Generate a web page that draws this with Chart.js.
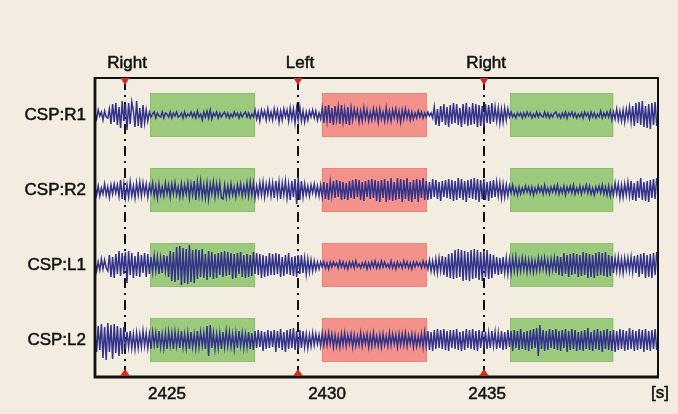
<!DOCTYPE html>
<html>
<head>
<meta charset="utf-8">
<script src="https://cdn.jsdelivr.net/npm/chart.js@4/dist/chart.umd.min.js"></script>
<style>
  html, body { margin: 0; padding: 0; background: #f3ece1; }
  canvas { display: block; }
</style>
</head>
<body>
<canvas id="eeg" width="678" height="414"></canvas>
<script>
// Recording window and sample grid (20 samples per second)
const T0 = 2422.75;
const DT = 0.05;
const X_MIN = 2422.75;
const X_MAX = 2440.34;

// Channel names and tick positions on the time axis
const channelNames = ['CSP:R1', 'CSP:R2', 'CSP:L1', 'CSP:L2'];
const timeTicks = [2425, 2430, 2435];

// Cue onsets and their labels
const cueTimes = [2423.69, 2429.09, 2434.91];
const cueLabels = ['Right', 'Left', 'Right'];

// Imagery windows: start, end and class of each one
const windowStarts = [2424.47, 2429.84, 2435.72];
const windowEnds = [2427.75, 2433.12, 2438.94];
const windowClasses = ['right', 'left', 'right'];

// CSP-filtered signal amplitudes per channel, 16 samples per line
const cspR1 = [
  2,-4,5,-1,3,-5,4,-2,-3,6,-9,11,-7,12,-10,8,
  -13,14,-6,11,-15,12,-9,13,4,-12,14,-11,7,-13,10,-8,
  5,-6,3,-2,1,3,-3,2,-1,-2,3,-3,2,1,-2,3,
  -3,2,-1,3,-2,-1,2,-3,3,-2,1,-1,3,-2,2,-3,
  4,-2,1,-5,3,-2,4,-3,5,-4,2,-1,3,-3,2,-2,
  1,3,-2,2,-3,1,-2,3,-1,2,-3,2,-2,1,3,-2,
  2,-3,1,-2,5,-4,3,-6,5,-2,4,-5,6,-4,3,-5,
  6,-3,5,-7,4,-5,6,-2,5,-6,7,-4,6,-8,7,-5,
  8,-6,4,-7,3,-5,4,-2,5,-3,4,-5,2,-4,7,-8,
  9,-6,10,-8,7,-10,9,-5,8,-9,10,-7,6,-9,8,-10,
  7,-5,6,-3,5,-7,4,-6,7,-4,5,-6,3,-5,6,-4,
  5,-7,6,-4,3,-6,7,-5,4,-6,5,-3,6,-5,4,-7,
  5,-4,6,-3,4,-5,3,-4,2,-3,4,-2,3,-3,2,-2,
  3,-1,2,-3,8,-10,6,-11,9,-7,11,-10,8,-12,10,-9,
  12,-8,11,-10,7,-12,11,-9,12,-11,8,-10,12,-9,11,-12,
  10,-11,9,-12,11,-8,10,-9,12,-7,8,-6,7,-8,6,-7,
  7,-5,6,-2,3,-2,1,-3,2,-1,2,-3,2,-2,3,-1,
  2,-3,1,-2,3,-2,2,-1,-2,3,-2,2,-3,1,-2,2,
  3,-2,1,-3,2,-2,3,-3,2,-1,3,-2,2,-3,1,-2,
  2,-3,3,-1,2,-4,3,-2,2,-3,1,-2,4,-3,2,-2,
  3,-2,4,-5,3,-4,6,-5,4,-6,5,-7,6,-4,8,-7,
  9,-11,12,-8,13,-10,14,-12,9,-13,11,-14,12,-10,13,-11
];
const cspR2 = [
  3,-5,4,-6,2,-4,6,-5,3,-7,5,-4,6,-3,5,-6,
  10,-9,6,-8,5,-7,8,-6,4,-8,7,-5,8,-6,7,-4,
  6,-7,5,-3,7,-6,4,-8,6,-5,3,-6,7,-4,5,-7,
  6,-4,7,-5,3,-7,6,-6,5,-4,7,-8,6,-5,9,-10,
  8,-6,9,-7,5,-8,7,-9,6,-4,8,-7,6,-5,7,-8,
  -9,5,-7,4,-6,6,-5,3,-7,5,-4,6,-6,4,-5,7,
  -6,8,-5,7,-8,4,-6,7,-5,8,-7,6,-4,8,-6,7,
  -8,9,-6,8,-9,7,-5,9,-8,6,-10,9,-7,11,-14,12,
  -10,9,-7,6,-5,4,-6,5,-3,6,-5,4,-6,5,-7,8,
  -9,7,-10,8,-6,9,-8,10,-7,9,-10,8,-9,7,-10,9,
  -8,10,-9,11,-7,10,-10,8,-11,9,-7,10,-9,11,-8,10,
  -11,9,-12,10,-8,11,-12,9,-10,12,-11,8,-10,12,-9,11,
  -12,10,-9,12,-11,8,-12,10,-9,11,-12,10,-8,12,-10,9,
  -10,8,-9,11,-7,10,-9,8,-11,9,-7,10,-8,11,-9,10,
  -11,9,-10,12,-8,11,-10,9,-12,10,-8,11,-9,12,-10,11,
  -12,10,-9,11,-10,8,-11,9,-8,10,-7,8,-6,7,-8,6,
  -7,5,-6,4,-3,5,-4,2,-5,3,-4,2,-3,4,-2,3,
  -4,3,-5,2,-3,4,-2,3,-4,5,-3,2,-4,3,-2,4,
  -3,5,-4,2,-3,4,-5,3,-2,4,-3,5,-4,2,-3,4,
  -4,3,-2,5,-3,4,-4,2,-5,3,-2,4,-3,5,-4,3,
  -5,4,-6,3,-5,7,-4,6,-8,5,-7,6,-5,8,-6,9,
  -10,7,-11,9,-8,12,-10,8,-11,9,-12,10,-8,11,-9,12
];
const cspL1 = [
  4,-6,3,-5,6,-4,5,-3,-6,10,-12,8,-13,11,-9,14,
  -11,12,-9,13,-18,14,-10,12,-13,9,-11,13,-12,10,-8,12,
  -12,11,-9,8,-7,9,-6,8,-9,7,-8,10,-6,9,-12,14,
  -16,13,-17,18,-15,19,-20,17,-18,16,-19,20,-17,15,-18,16,
  -14,15,-12,16,-13,11,-15,14,-12,13,-14,11,-13,12,-10,13,
  -12,14,-11,13,-10,12,-14,11,-13,12,-9,13,-12,10,-13,11,
  -12,10,-11,13,-9,12,-10,11,-13,10,-12,9,-11,12,-10,11,
  -10,12,-9,11,-12,8,-11,10,-9,12,-10,8,-11,9,-12,10,
  -9,10,-8,7,-9,6,-7,5,-6,4,-5,3,-4,3,-2,3,
  -3,2,-4,3,-2,3,-1,2,-3,4,-2,3,-3,2,-4,3,
  -2,3,-3,4,-2,1,-3,2,-2,3,-4,2,-3,3,-2,4,
  -3,2,-3,4,-2,3,-2,1,-3,4,-3,2,-4,3,-2,2,
  -3,4,-2,3,-3,2,-4,3,-2,3,-1,2,-3,4,-2,3,
  -4,5,-6,4,-7,6,-8,7,-6,9,-10,8,-12,11,-13,12,
  -14,15,-13,16,-12,15,-16,14,-15,13,-16,15,-14,16,-13,15,
  -15,13,-16,14,-12,15,-14,11,-13,10,-9,8,-10,7,-9,8,
  -8,7,-9,6,-8,7,-6,8,-7,5,-6,7,-5,6,-7,5,
  -6,5,-7,4,-6,7,-5,6,-4,7,-6,5,-7,6,-5,7,
  -8,9,-10,8,-11,12,-9,10,-12,11,-10,12,-9,11,-12,10,
  -11,13,-10,12,-13,11,-12,10,-13,12,-11,13,-10,12,-11,13,
  -12,10,-11,9,-8,7,-6,8,-7,6,-8,7,-5,7,-6,8,
  -7,9,-8,10,-12,11,-9,12,-13,10,-12,11,-13,12,-10,13
];
const cspL2 = [
  8,-12,14,-10,16,-18,13,-20,17,-12,15,-19,16,-13,14,-16,
  12,-14,13,-9,8,-7,9,-8,6,-9,7,-8,6,-7,9,-6,
  7,-8,6,-9,8,-5,7,-8,9,-7,6,-8,7,-9,8,-6,
  7,-9,8,-6,7,-8,9,-7,6,-8,7,-9,8,-7,6,-8,
  9,-7,8,-6,7,-9,14,-16,15,-8,7,-9,6,-8,7,-9,
  8,-7,9,-6,8,-7,6,-9,7,-8,9,-6,7,-8,6,-7,
  8,-9,7,-10,9,-8,10,-7,9,-11,8,-9,10,-8,9,-7,
  10,-12,9,-8,11,-10,8,-12,10,-9,11,-8,12,-10,9,-11,
  10,-8,9,-7,6,-8,5,-6,7,-5,6,-4,5,-6,7,-5,
  6,-5,7,-4,6,-7,5,-6,4,-7,6,-5,7,-6,5,-4,
  6,-7,5,-6,4,-5,7,-6,5,-4,6,-7,5,-6,7,-5,
  4,-6,5,-7,6,-5,4,-6,7,-5,6,-4,5,-7,6,-5,
  6,-5,7,-6,5,-4,6,-7,5,-6,4,-5,6,-7,8,-6,
  9,-10,8,-11,10,-9,11,-8,10,-9,11,-10,9,-11,10,-8,
  10,-9,11,-10,8,-11,9,-10,11,-8,10,-9,11,-10,9,-11,
  10,-8,9,-7,8,-9,7,-8,9,-6,8,-9,7,-8,9,-10,
  8,-9,10,-7,9,-11,10,-8,9,-10,11,-9,8,-10,9,-11,
  10,-9,11,-8,12,-16,15,-9,10,-11,9,-10,11,-8,10,-9,
  11,-10,9,-11,10,-8,11,-12,9,-10,11,-9,10,-11,8,-10,
  9,-11,10,-9,12,-10,8,-11,10,-9,11,-10,9,-12,10,-9,
  11,-10,9,-11,10,-12,9,-10,11,-9,10,-11,9,-10,12,-9,
  10,-11,9,-10,11,-9,10,-12,11,-10,9,-11,10,-9,11,-10
];
const channelSignals = [cspR1, cspR2, cspL1, cspL2];

// Stacked layout: baseline of the top trace and the spacing between traces
const TOP_BASELINE = 262;
const ROW_GAP = 75;
const BOX_HALF = 22;
const baselineOf = k => TOP_BASELINE - k * ROW_GAP;

const FONT_FAMILY = '"Liberation Sans", Arial, sans-serif';
const TEXT_FONT = '17px ' + FONT_FAMILY;
const INK = '#111111';
const TRACE = '#33338a';

const datasets = channelSignals.map((sig, k) => ({
  label: channelNames[k],
  data: sig.map((v, i) => ({ x: T0 + i * DT, y: baselineOf(k) + v })),
  borderColor: TRACE,
  borderWidth: 1.5,
  pointRadius: 0,
  tension: 0,
  fill: false
}));

function inkText(c, text, x, y) {
  c.fillText(text, x, y);
  c.strokeText(text, x, y);
}

// Background, imagery windows, cue lines, frame, cue markers and labels
const decorations = {
  id: 'decorations',
  beforeDraw(chart) {
    const c = chart.ctx;
    c.save();
    c.fillStyle = '#f3ece1';
    c.fillRect(0, 0, chart.width, chart.height);
    c.restore();
  },
  beforeDatasetsDraw(chart) {
    const c = chart.ctx, xs = chart.scales.x, ys = chart.scales.y, a = chart.chartArea;
    c.save();
    for (let w = 0; w < windowStarts.length; w++) {
      const x0 = xs.getPixelForValue(windowStarts[w]);
      const x1 = xs.getPixelForValue(windowEnds[w]);
      const isRight = windowClasses[w] === 'right';
      for (let k = 0; k < channelNames.length; k++) {
        const yt = ys.getPixelForValue(baselineOf(k) + BOX_HALF);
        const yb = ys.getPixelForValue(baselineOf(k) - BOX_HALF);
        c.fillStyle = isRight ? '#9cca7c' : '#f2928b';
        c.fillRect(x0, yt, x1 - x0, yb - yt);
        c.strokeStyle = isRight ? '#8dbd6d' : '#e8857f';
        c.lineWidth = 1;
        c.strokeRect(x0 + 0.5, yt + 0.5, x1 - x0 - 1, yb - yt - 1);
      }
    }
    // dash-dot cue lines
    c.strokeStyle = '#111';
    c.lineWidth = 2;
    c.setLineDash([10, 5, 2, 5]);
    cueTimes.forEach(t => {
      const x = Math.round(xs.getPixelForValue(t));
      c.beginPath();
      c.moveTo(x, a.top + 2);
      c.lineTo(x, a.bottom - 2);
      c.stroke();
    });
    c.restore();
  },
  afterDraw(chart) {
    const c = chart.ctx, xs = chart.scales.x, a = chart.chartArea;
    c.save();
    // frame
    c.strokeStyle = '#111';
    c.lineWidth = 2;
    c.beginPath();
    c.moveTo(a.left, a.top);
    c.lineTo(a.right, a.top);
    c.lineTo(a.right, a.bottom);
    c.stroke();
    c.lineWidth = 2.8;
    c.beginPath();
    c.moveTo(a.left, a.top - 1);
    c.lineTo(a.left, a.bottom);
    c.lineTo(a.right + 1, a.bottom);
    c.stroke();
    // cue markers
    c.fillStyle = '#d42a22';
    cueTimes.forEach(t => {
      const x = Math.round(xs.getPixelForValue(t));
      c.beginPath();
      c.moveTo(x - 4.5, a.top);
      c.lineTo(x + 4.5, a.top);
      c.lineTo(x, a.top + 7);
      c.closePath();
      c.fill();
      c.beginPath();
      c.moveTo(x - 5, a.bottom - 1);
      c.lineTo(x + 5, a.bottom - 1);
      c.lineTo(x, a.bottom - 8);
      c.closePath();
      c.fill();
    });
    // cue labels
    c.fillStyle = INK;
    c.strokeStyle = INK;
    c.lineWidth = 0.5;
    c.font = TEXT_FONT;
    c.textAlign = 'center';
    c.textBaseline = 'alphabetic';
    cueTimes.forEach((t, i) => {
      inkText(c, cueLabels[i], xs.getPixelForValue(t) + 2, a.top - 10);
    });
    // unit label of the time axis
    c.textAlign = 'right';
    c.textBaseline = 'middle';
    inkText(c, '[s]', 669, 393);
    c.restore();
  }
};

new Chart(document.getElementById('eeg'), {
  type: 'line',
  data: { datasets },
  options: {
    responsive: false,
    animation: false,
    devicePixelRatio: 1,
    layout: { padding: { top: 78, right: 20, bottom: 0, left: 0 } },
    plugins: { legend: { display: false }, tooltip: { enabled: false } },
    scales: {
      x: {
        type: 'linear',
        min: X_MIN,
        max: X_MAX,
        grid: { display: false, drawTicks: false },
        border: { display: false },
        afterBuildTicks: s => { s.ticks = timeTicks.map(v => ({ value: v })); },
        afterFit: s => { s.height = 37; },
        ticks: {
          padding: 7,
          color: INK,
          textStrokeColor: INK,
          textStrokeWidth: 0.5,
          font: { family: FONT_FAMILY, size: 17 },
          callback: v => String(v)
        }
      },
      y: {
        type: 'linear',
        min: 0,
        max: 299,
        grid: { display: false, drawTicks: false },
        border: { display: false },
        afterBuildTicks: s => { s.ticks = channelNames.map((n, k) => ({ value: baselineOf(k) })); },
        afterFit: s => { s.width = 95; },
        ticks: {
          padding: 9,
          color: INK,
          textStrokeColor: INK,
          textStrokeWidth: 0.5,
          font: { family: FONT_FAMILY, size: 17 },
          callback: v => {
            const k = channelNames.findIndex((n, j) => baselineOf(j) === v);
            return k >= 0 ? channelNames[k] : '';
          }
        }
      }
    }
  },
  plugins: [decorations]
});
</script>
</body>
</html>
